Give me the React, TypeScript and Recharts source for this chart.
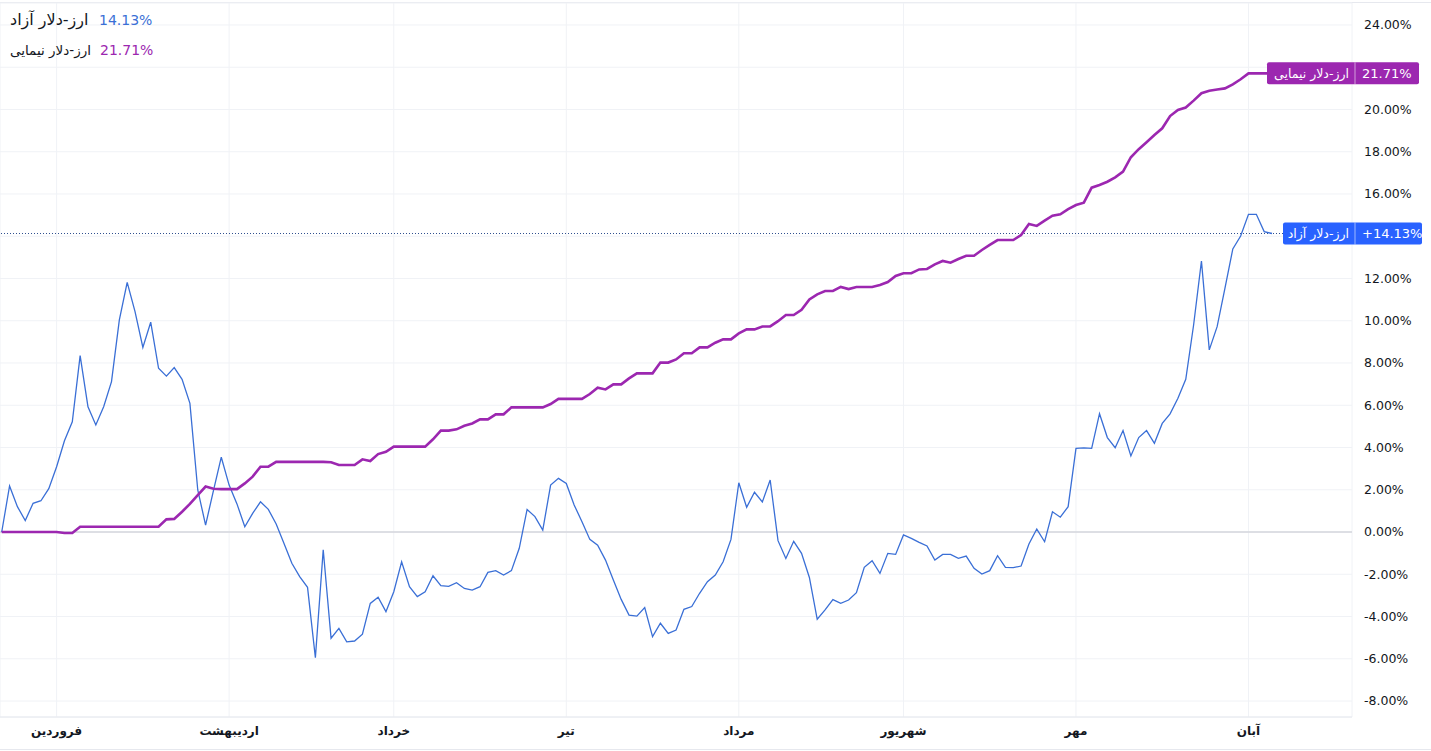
import React from "react";
import { LineChart, Line, XAxis, YAxis, CartesianGrid, ReferenceLine } from "recharts";

const months = ["فروردین", "اردیبهشت", "خرداد", "تیر", "مرداد", "شهریور", "مهر", "آبان"];
const monthStarts = [7, 29, 50, 72, 94, 115, 137, 159];
const yTicks = [-8, -6, -4, -2, 0, 2, 4, 6, 8, 10, 12, 14, 16, 18, 20, 22, 24];

const freeName = "ارز-دلار آزاد";
const nimaName = "ارز-دلار نیمایی";

// ارز-دلار آزاد, % change
const freeRate = [
  0.0, 2.18, 1.2, 0.54, 1.36, 1.48, 2.05, 3.09, 4.32, 5.22,
  8.35, 5.93, 5.07, 5.93, 7.12, 10.04, 11.82, 10.43, 8.74, 9.93,
  7.75, 7.38, 7.78, 7.23, 6.09, 1.99, 0.33, 1.96, 3.54, 2.22,
  1.33, 0.25, 0.88, 1.43, 1.07, 0.38, -0.54, -1.48, -2.11, -2.62,
  -5.95, -0.84, -5.03, -4.56, -5.2, -5.16, -4.84, -3.38, -3.09, -3.77,
  -2.83, -1.41, -2.59, -3.06, -2.83, -2.07, -2.54, -2.57, -2.4, -2.67,
  -2.75, -2.59, -1.91, -1.83, -2.04, -1.83, -0.77, 1.07, 0.73, 0.09,
  2.22, 2.54, 2.3, 1.28, 0.49, -0.35, -0.62, -1.33, -2.27, -3.19,
  -3.93, -3.98, -3.58, -4.95, -4.32, -4.8, -4.64, -3.66, -3.53, -2.9,
  -2.35, -2.04, -1.41, -0.35, 2.33, 1.17, 1.88, 1.42, 2.46, -0.41,
  -1.25, -0.44, -1.01, -2.15, -4.13, -3.69, -3.2, -3.38, -3.22, -2.87,
  -1.67, -1.36, -1.96, -1.01, -1.06, -0.14, -0.3, -0.49, -0.66, -1.33,
  -1.06, -1.06, -1.25, -1.14, -1.72, -1.99, -1.83, -1.12, -1.67, -1.69,
  -1.61, -0.57, 0.14, -0.46, 0.96, 0.7, 1.2, 3.96, 3.98, 3.96,
  5.6, 4.47, 3.99, 4.8, 3.6, 4.47, 4.8, 4.2, 5.14, 5.59,
  6.33, 7.23, 9.8, 12.83, 8.62, 9.72, 11.54, 13.4, 14.01, 15.04,
  15.04, 14.22, 14.13,
];

// ارز-دلار نیمایی, % change
const nimaRate = [
  0, 0, 0, 0, 0, 0, 0, 0, -0.05, -0.05,
  0.25, 0.25, 0.25, 0.25, 0.25, 0.25, 0.25, 0.25, 0.25, 0.25,
  0.25, 0.6, 0.62, 0.96, 1.33, 1.75, 2.15, 2.05, 2.03, 2.03,
  2.03, 2.3, 2.62, 3.09, 3.09, 3.32, 3.32, 3.32, 3.32, 3.32,
  3.32, 3.32, 3.3, 3.17, 3.17, 3.17, 3.44, 3.36, 3.69, 3.8,
  4.04, 4.04, 4.04, 4.04, 4.04, 4.39, 4.8, 4.8, 4.86, 5.03,
  5.14, 5.33, 5.33, 5.57, 5.57, 5.9, 5.9, 5.9, 5.9, 5.9,
  6.06, 6.3, 6.3, 6.3, 6.3, 6.53, 6.83, 6.75, 6.99, 6.99,
  7.27, 7.51, 7.51, 7.51, 8.02, 8.02, 8.17, 8.46, 8.46, 8.74,
  8.74, 8.96, 9.12, 9.12, 9.4, 9.59, 9.59, 9.73, 9.73, 9.98,
  10.27, 10.27, 10.52, 11.01, 11.25, 11.41, 11.41, 11.6, 11.5, 11.6,
  11.6, 11.6, 11.69, 11.83, 12.12, 12.25, 12.25, 12.43, 12.45, 12.67,
  12.83, 12.75, 12.92, 13.08, 13.08, 13.35, 13.59, 13.82, 13.82, 13.82,
  14.06, 14.58, 14.49, 14.74, 14.97, 15.04, 15.28, 15.48, 15.59, 16.3,
  16.43, 16.58, 16.79, 17.06, 17.74, 18.12, 18.45, 18.79, 19.11, 19.69,
  19.98, 20.09, 20.42, 20.77, 20.89, 20.95, 21.0, 21.19, 21.43, 21.71,
  21.71, 21.71, 21.71,
];

const freeLast = freeRate[freeRate.length - 1];
const nimaLast = nimaRate[nimaRate.length - 1];

const data = freeRate.map((v, i) => ({ i, free: v, nima: nimaRate[i] }));

const BLUE = "#3a6fd6";
const BLUE_TAG = "#2962ff";
const PURPLE = "#9c27b0";
const FONT = "'DejaVu Sans', sans-serif";
const W = 1431;
const H = 751;
const AXIS_W = 79;
const X_AXIS_H = 34;
const X_DOMAIN: [number, number] = [-0.22, 172.2];
const Y_DOMAIN: [number, number] = [-8.757, 25.041];

const PriceTag = (props: any) => {
  const { viewBox, name, text, color, left, right } = props;
  if (!viewBox) return null;
  const edge = viewBox.x + viewBox.width;
  const y = viewBox.y;
  return (
    <g style={{ fontFamily: FONT }}>
      <rect x={edge - left} y={y - 11} width={left + right} height={22} rx={2} fill={color} />
      <line x1={edge + 3} x2={edge + 3} y1={y - 11} y2={y + 11} stroke="rgba(255,255,255,0.55)" />
      <text x={edge - 3} y={y + 4.5} textAnchor="end" fill="#fff" fontSize={12.5}>
        {name}
      </text>
      <text x={edge + 10} y={y + 4.5} textAnchor="start" fill="#fff" fontSize={13}>
        {text}
      </text>
    </g>
  );
};

export default function App() {
  return (
    <div style={{ position: "absolute", left: 0, top: 0, width: W, height: H, background: "#fff", fontFamily: FONT }}>
      <div style={{ position: "absolute", left: 0, top: 2, width: W, height: 1, background: "#e6e8ee" }} />
      <div style={{ position: "absolute", left: 0, top: 749, width: W, height: 1, background: "#e6e8ee" }} />
      <div style={{ position: "absolute", left: 0, top: 0 }}>
        <LineChart width={W} height={H} data={data} margin={{ top: 3, right: 0, left: 0, bottom: 0 }}>
          <CartesianGrid stroke="#f0f2f6" vertical={true} horizontal={true} />
          <XAxis
            dataKey="i"
            type="number"
            domain={X_DOMAIN}
            allowDataOverflow
            ticks={monthStarts}
            tickFormatter={(v: number) => months[monthStarts.indexOf(v)]}
            height={X_AXIS_H}
            axisLine={{ stroke: "#e6e8ee" }}
            tickLine={false}
            tickSize={0}
            tickMargin={9}
            tick={{ fill: "#131722", fontSize: 12, fontWeight: 600, fontFamily: FONT }}
          />
          <YAxis
            orientation="right"
            width={AXIS_W}
            domain={Y_DOMAIN}
            allowDataOverflow
            ticks={yTicks}
            tickFormatter={(v: number) => v.toFixed(2) + "%"}
            axisLine={false}
            tickLine={false}
            tickSize={0}
            tickMargin={12}
            tick={{ fill: "#131722", fontSize: 12.5, fontFamily: FONT }}
          />
          <ReferenceLine y={0} stroke="#d4d6dc" strokeWidth={1.5} />
          <ReferenceLine y={freeLast} stroke="#2f4f8f" strokeDasharray="1 2" strokeWidth={1} />
          <Line type="linear" dataKey="free" stroke={BLUE} strokeWidth={1.3} dot={false} isAnimationActive={false} />
          <Line type="linear" dataKey="nima" stroke={PURPLE} strokeWidth={2.6} dot={false} isAnimationActive={false} />
        </LineChart>
      </div>
      {/* overlay with the last-value tags, so they sit above the axis labels */}
      <div style={{ position: "absolute", left: 0, top: 0 }}>
        <LineChart width={W} height={H} data={data} margin={{ top: 3, right: AXIS_W, left: 0, bottom: X_AXIS_H }}>
          <XAxis dataKey="i" type="number" domain={X_DOMAIN} allowDataOverflow hide />
          <YAxis domain={Y_DOMAIN} allowDataOverflow hide />
          <ReferenceLine
            y={nimaLast}
            stroke="none"
            label={<PriceTag name={nimaName} text={nimaLast.toFixed(2) + "%"} color={PURPLE} left={85} right={67} />}
          />
          <ReferenceLine
            y={freeLast}
            stroke="none"
            label={<PriceTag name={freeName} text={"+" + freeLast.toFixed(2) + "%"} color={BLUE_TAG} left={69} right={70} />}
          />
        </LineChart>
      </div>
      <div style={{ position: "absolute", left: 10, top: 10, fontSize: 16, color: "#131722", whiteSpace: "nowrap" }}>
        {freeName}
      </div>
      <div style={{ position: "absolute", left: 99, top: 12, fontSize: 14, color: BLUE, whiteSpace: "nowrap" }}>
        {freeLast.toFixed(2)}%
      </div>
      <div style={{ position: "absolute", left: 10, top: 42, fontSize: 13.5, color: "#131722", whiteSpace: "nowrap" }}>
        {nimaName}
      </div>
      <div style={{ position: "absolute", left: 100, top: 42, fontSize: 14, color: PURPLE, whiteSpace: "nowrap" }}>
        {nimaLast.toFixed(2)}%
      </div>
    </div>
  );
}
